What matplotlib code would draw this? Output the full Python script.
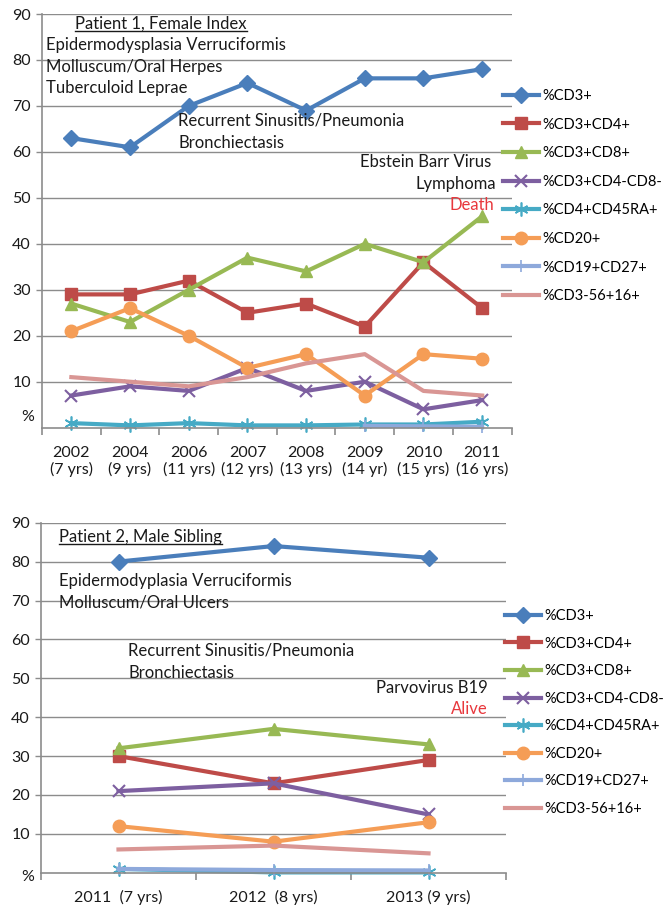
import numpy as np
import matplotlib
matplotlib.use("Agg")
import matplotlib.pyplot as plt
from matplotlib.lines import Line2D

plt.rcParams['font.family'] = ['Lato', 'DejaVu Sans']

W, H = 664, 906

# ---------------- data ----------------
series_names = ['%CD3+', '%CD3+CD4+', '%CD3+CD8+', '%CD3+CD4-CD8-',
                '%CD4+CD45RA+', '%CD20+', '%CD19+CD27+', '%CD3-56+16+']

p1_labels = ['2002\n(7 yrs)', '2004\n(9 yrs)', '2006\n(11 yrs)', '2007\n(12 yrs)',
             '2008\n(13 yrs)', '2009\n(14 yr)', '2010\n(15 yrs)', '2011\n(16 yrs)']
p1_cd3 = [63, 61, 70, 75, 69, 76, 76, 78]
p1_cd4 = [29, 29, 32, 25, 27, 22, 36, 26]
p1_cd8 = [27, 23, 30, 37, 34, 40, 36, 46]
p1_dn = [7, 9, 8, 13, 8, 10, 4, 6]
p1_cd45ra = [1.0, 0.5, 1.0, 0.5, 0.5, 0.7, 0.7, 1.3]
p1_cd20 = [21, 26, 20, 13, 16, 7, 16, 15]
p1_cd19 = [np.nan, np.nan, np.nan, np.nan, np.nan, 0.4, 0.3, 0.2]
p1_nk = [11, 10, 9, 11, 14, 16, 8, 7]

p2_labels = ['2011  (7 yrs)', '2012  (8 yrs)', '2013 (9 yrs)']
p2_cd3 = [80, 84, 81]
p2_cd4 = [30, 23, 29]
p2_cd8 = [32, 37, 33]
p2_dn = [21, 23, 15]
p2_cd45ra = [1.0, 0.1, 0.1]
p2_cd20 = [12, 8, 13]
p2_cd19 = [1.0, 0.7, 0.6]
p2_nk = [6, 7, 5]

yticks = [10, 20, 30, 40, 50, 60, 70, 80, 90]

# ---------------- styles ----------------
colors = ['#4A7EBB', '#BE4B48', '#98B954', '#7D5FA0', '#46AAC5', '#F59D56', '#8EA9DB', '#D99694']
asterisk = (6, 2, 0)
markers = ['D', 's', '^', 'x', asterisk, 'o', '|', None]
msizes = [8, 8, 9, 8, 10, 9, 9, 0]
mews = [1, 1, 1, 1.5, 1.2, 1, 1.2, 1]
LW = 3.0
GRID = '#8C8C8C'
FS = 11.5
FS_ANN = 12
FS_LEG = 10.5

fig = plt.figure(figsize=(W / 100, H / 100), dpi=100)


def px_axes(l, t, r, b):
    return fig.add_axes([l / W, 1 - b / H, (r - l) / W, (b - t) / H])


def style_axes(ax, n, labels):
    ax.set_xlim(-0.5, n - 0.5)
    ax.set_ylim(0, 90)
    ax.set_yticks(yticks)
    ax.yaxis.grid(True, color=GRID, lw=1.0)
    ax.set_axisbelow(True)
    for s in ['top', 'right']:
        ax.spines[s].set_visible(False)
    ax.spines['left'].set_color(GRID)
    ax.spines['bottom'].set_color(GRID)
    ax.spines['left'].set_linewidth(1.2)
    ax.spines['bottom'].set_linewidth(1.2)
    ax.set_xticks(range(n))
    ax.set_xticklabels(labels, fontsize=FS, color='#1a1a1a')
    ax.set_xticks(np.arange(-0.5, n, 1.0), minor=True)
    ax.tick_params(axis='x', which='major', length=0, pad=13)
    ax.tick_params(axis='x', which='minor', length=5, color=GRID, width=1.2)
    ax.tick_params(axis='y', length=4, color=GRID, width=1.0, labelsize=FS, pad=4,
                   labelcolor='#1a1a1a')
    ax.patch.set_alpha(0)


def plot_series(ax, data):
    handles = []
    x = np.arange(len(data[0]))
    for i, vals in enumerate(data):
        h, = ax.plot(x, vals, color=colors[i], lw=LW, marker=markers[i],
                     ms=msizes[i], mew=mews[i], mec=colors[i], mfc=colors[i],
                     label=series_names[i], solid_joinstyle='round', clip_on=False)
        handles.append(h)
    return handles


def ftext(x, y, s, ha='left', color='#1a1a1a', underline=False, fs=FS_ANN):
    t = fig.text(x / W, 1 - y / H, s, ha=ha, va='center', fontsize=fs, color=color)
    if underline:
        fig.canvas.draw()
        bb = t.get_window_extent()
        yy = bb.y0 + 1
        fig.add_artist(Line2D([bb.x0 / W, bb.x1 / W], [yy / H, yy / H],
                              color=color, lw=1.0, transform=fig.transFigure))
    return t


# ---------------- top chart ----------------
ax1 = px_axes(42, 14, 511.5, 427.7)
style_axes(ax1, 8, p1_labels)
h1 = plot_series(ax1, [p1_cd3, p1_cd4, p1_cd8, p1_dn, p1_cd45ra, p1_cd20, p1_cd19, p1_nk])
ax1.legend(handles=h1, loc='upper left', bbox_to_anchor=(503 / W, 1 - 89 / H),
           bbox_transform=fig.transFigure, frameon=False, fontsize=FS_LEG,
           handlelength=2.5, handletextpad=0.2, labelspacing=1.0, borderpad=0,
           borderaxespad=0)
ftext(34, 417, '%', ha='right', fs=FS)

ftext(75, 24, 'Patient 1, Female Index', underline=True)
ftext(46, 45, 'Epidermodysplasia Verruciformis')
ftext(46, 67, 'Molluscum/Oral Herpes')
ftext(46, 88, 'Tuberculoid Leprae')
ftext(178, 121, 'Recurrent Sinusitis/Pneumonia')
ftext(178, 143, 'Bronchiectasis')
ftext(491, 162, 'Ebstein Barr Virus', ha='right')
ftext(496, 184, 'Lymphoma', ha='right')
ftext(494, 205, 'Death', ha='right', color='#E8383D')

# ---------------- bottom chart ----------------
ax2 = px_axes(41, 522.7, 506, 872.8)
style_axes(ax2, 3, p2_labels)
ax2.tick_params(axis='x', which='major', pad=12)
h2 = plot_series(ax2, [p2_cd3, p2_cd4, p2_cd8, p2_dn, p2_cd45ra, p2_cd20, p2_cd19, p2_nk])
ax2.legend(handles=h2, loc='upper left', bbox_to_anchor=(505 / W, 1 - 609 / H),
           bbox_transform=fig.transFigure, frameon=False, fontsize=FS_LEG,
           handlelength=2.5, handletextpad=0.2, labelspacing=0.93, borderpad=0,
           borderaxespad=0)
ftext(34, 877, '%', ha='right', fs=FS)

ftext(59, 537, 'Patient 2, Male Sibling', underline=True)
ftext(59, 581, 'Epidermodyplasia Verruciformis')
ftext(59, 602, 'Molluscum/Oral Ulcers')
ftext(128, 651, 'Recurrent Sinusitis/Pneumonia')
ftext(128, 673, 'Bronchiectasis')
ftext(488, 688, 'Parvovirus B19', ha='right')
ftext(488, 709, 'Alive', ha='right', color='#E8383D')

fig.savefig('out.png', dpi=100)
